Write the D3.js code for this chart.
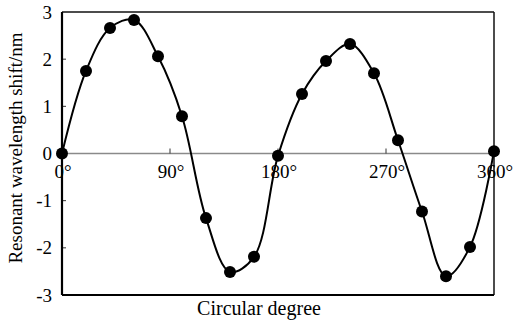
<!DOCTYPE html>
<html><head><meta charset="utf-8">
<script src="https://cdn.jsdelivr.net/npm/d3@7"></script>
<style>html,body{margin:0;padding:0;background:#fff;}svg{display:block;}</style>
</head><body>
<script>
const degrees = [0,20,40,60,80,100,120,140,160,180,200,220,240,260,280,300,320,340,360];
const shifts = [0,1.75,2.66,2.83,2.06,0.79,-1.37,-2.51,-2.19,-0.05,1.26,1.96,2.32,1.70,0.28,-1.23,-2.60,-1.98,0.05];
const xTicks = [0,90,180,270,360];
const xTickLabels = ["0°","90°","180°","270°","360°"];
const yTicks = [-3,-2,-1,0,1,2,3];

const W=513,H=322;
const L=62,R=494,T=12,B=295;
const svg=d3.select("body").append("svg").attr("width",W).attr("height",H);
svg.append("rect").attr("width",W).attr("height",H).attr("fill","#fff");
const x=d3.scaleLinear().domain([0,360]).range([L,R]);
const y=d3.scaleLinear().domain([-3,3]).range([B,T]);
const font="'Liberation Serif','Times New Roman',serif";

// zero line
svg.append("line").attr("x1",L).attr("x2",R).attr("y1",y(0)).attr("y2",y(0))
  .attr("stroke","#8a8a8a").attr("stroke-width",1.5);
// x ticks on zero line (upward)
svg.selectAll(".xt").data(xTicks.slice(1,-1)).enter().append("line")
  .attr("x1",d=>x(d)).attr("x2",d=>x(d)).attr("y1",y(0)).attr("y2",y(0)-5)
  .attr("stroke","#333").attr("stroke-width",1);
// y ticks inward
svg.selectAll(".yt").data(yTicks.slice(1,-1)).enter().append("line")
  .attr("x1",L).attr("x2",L+4).attr("y1",d=>y(d)).attr("y2",d=>y(d))
  .attr("stroke","#333").attr("stroke-width",1);

// frame
svg.append("line").attr("x1",L).attr("x2",R).attr("y1",T).attr("y2",T).attr("stroke","#111").attr("stroke-width",1.5);
svg.append("line").attr("x1",R).attr("x2",R).attr("y1",T).attr("y2",B).attr("stroke","#111").attr("stroke-width",1.5);
svg.append("line").attr("x1",L).attr("x2",R).attr("y1",B).attr("y2",B).attr("stroke","#000").attr("stroke-width",2);
svg.append("line").attr("x1",L).attr("x2",L).attr("y1",T).attr("y2",B).attr("stroke","#000").attr("stroke-width",2.2);

// y tick labels
svg.selectAll(".yl").data(yTicks).enter().append("text")
  .attr("x",L-10).attr("y",d=>y(d)).attr("dy","0.35em")
  .attr("text-anchor","end").attr("font-family",font).attr("font-size",19)
  .text(d=>d);
// x tick labels
svg.selectAll(".xl").data(xTicks).enter().append("text")
  .attr("x",d=>x(d)+1).attr("y",y(0)+24)
  .attr("text-anchor","middle").attr("font-family",font).attr("font-size",19)
  .text((d,i)=>xTickLabels[i]);

// curve
const data=degrees.map((d,i)=>({d,v:shifts[i]}));
svg.append("path").datum(data)
  .attr("d",d3.line().x(p=>x(p.d)).y(p=>y(p.v)).curve(d3.curveCatmullRom.alpha(0.5)))
  .attr("fill","none").attr("stroke","#000").attr("stroke-width",2);
svg.selectAll(".pt").data(data).enter().append("circle")
  .attr("cx",p=>x(p.d)).attr("cy",p=>y(p.v)).attr("r",6).attr("fill","#000");

// axis titles
svg.append("text").attr("x",259).attr("y",315)
  .attr("text-anchor","middle").attr("font-family",font).attr("font-size",20)
  .text("Circular degree");
svg.append("text").attr("transform","translate(22,148) rotate(-90)")
  .attr("text-anchor","middle").attr("font-family",font).attr("font-size",19)
  .text("Resonant wavelength shift/nm");
</script>
</body></html>
